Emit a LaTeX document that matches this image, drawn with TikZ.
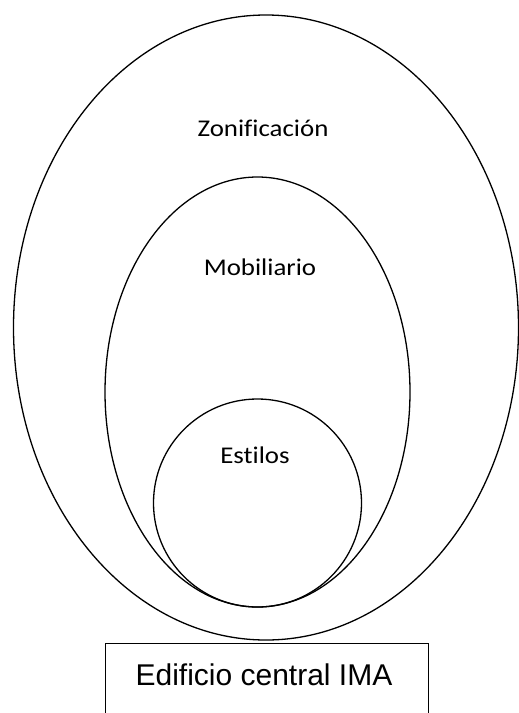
\documentclass[tikz,border=0pt]{standalone}
\usepackage{fontspec}
\usetikzlibrary{shapes.geometric}
\setmainfont[RawFeature=-liga]{Carlito}
\newfontfamily\arialfont{Liberation Sans}
\tikzset{
  ring/.style={draw, line width=1.3pt},
  lbl/.style={font=\fontsize{24}{26}\selectfont, inner sep=0pt, xscale=1.12},
  basebox/.style={draw, line width=1.2pt, inner sep=0pt, minimum width=323pt, minimum height=90pt}
}
\begin{document}
\begin{tikzpicture}[x=1pt,y=-1pt]
\useasboundingbox (0,0) rectangle (519,713);
\node[ring, ellipse, minimum width=505pt, minimum height=625pt, inner sep=0pt] (outer) at (266,327.5) {};
\node[ring, ellipse, minimum width=305pt, minimum height=430pt, inner sep=0pt] (middle) at (257.5,392) {};
\node[ring, ellipse, minimum width=208pt, minimum height=208pt, inner sep=0pt] (inner) at (257.5,503) {};
\node[lbl] (zon) at (263,128) {Zonificación};
\node[lbl] (mob) at (260,267) {Mobiliario};
\node[lbl] (est) at (255,455) {Estilos};
\node[basebox, anchor=north west] (box) at (105,643) {};
\node[font=\arialfont\fontsize{30}{32}\selectfont, inner sep=0pt, anchor=base] (boxlbl) at (264,685) {Edificio central IMA};
\end{tikzpicture}
\end{document}
